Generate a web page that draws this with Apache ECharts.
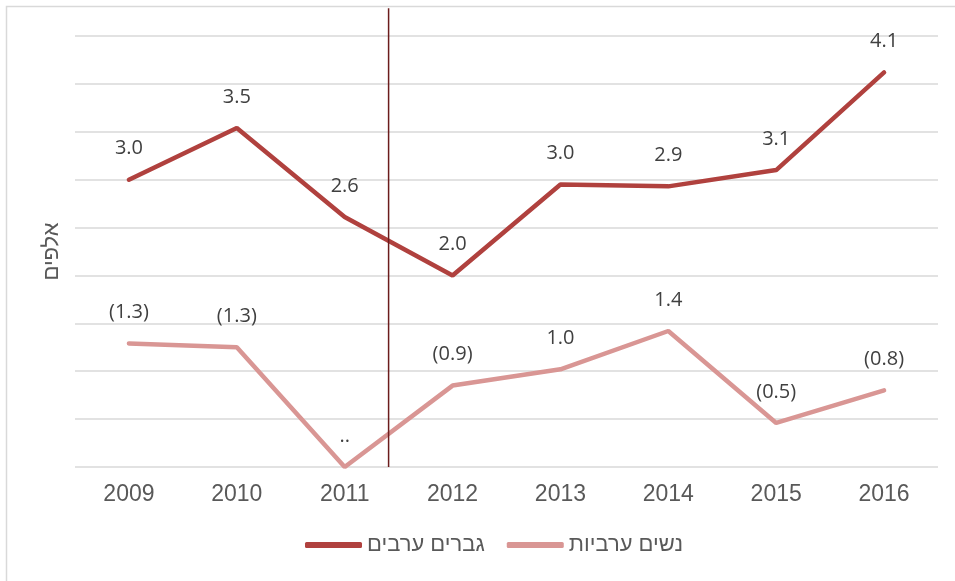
<!DOCTYPE html>
<html lang="he">
<head>
  <meta charset="UTF-8">
  <title>Chart</title>
  <script src="https://cdn.jsdelivr.net/npm/echarts@6/dist/echarts.min.js"></script>
  <style>
    * { margin: 0; padding: 0; }
    #chart { width: 955px; height: 581px; background: #fff; }
  </style>
</head>
<body>
<div id="chart"></div>
<script>
  // data
  var years = ['2009', '2010', '2011', '2012', '2013', '2014', '2015', '2016'];
  var men = [3.0, 3.54, 2.61, 2.0, 2.95, 2.93, 3.1, 4.12];
  var women = [1.29, 1.25, 0, 0.85, 1.02, 1.42, 0.46, 0.8];
  var menLabels = ['3.0', '3.5', '2.6', '2.0', '3.0', '2.9', '3.1', '4.1'];
  var womenLabels = ['(1.3)', '(1.3)', '..', '(0.9)', '1.0', '1.4', '(0.5)', '(0.8)'];
  var breakAt = 2.407; // vertical separator between 2011 and 2012

  var myChart = echarts.init(document.getElementById('chart'));

  function labelOpt(texts) {
    return {
      show: true,
      position: 'top',
      distance: 21,
      fontFamily: 'Open Sans',
      fontSize: 20,
      color: '#404040',
      formatter: function (p) { return texts[p.dataIndex]; }
    };
  }

  var option = {
    animation: false,
    graphic: [{
      type: 'rect',
      shape: { x: 6.5, y: 6.5, width: 960, height: 600 },
      style: { fill: 'none', stroke: '#d9d9d9', lineWidth: 1.5 },
      silent: true
    }],
    grid: { left: 75, right: 17, top: 36, bottom: 114 },
    legend: {
      bottom: 20,
      left: 300,
      itemWidth: 57,
      itemHeight: 6,
      itemGap: 22,
      icon: 'roundRect',
      data: ['גברים ערבים', 'נשים ערביות'],
      textStyle: { fontFamily: 'Liberation Sans', fontSize: 22, color: '#595959' }
    },
    xAxis: [{
      type: 'category',
      data: years,
      axisLine: { show: false },
      axisTick: { show: false },
      axisLabel: { fontFamily: 'Liberation Sans', fontSize: 23, color: '#595959', margin: 16 }
    }, {
      type: 'value',
      min: -0.5,
      max: 7.5,
      show: false
    }],
    yAxis: {
      type: 'value',
      min: 0,
      max: 4.5,
      interval: 0.5,
      name: 'אלפים',
      nameLocation: 'middle',
      nameGap: 12,
      nameTextStyle: { fontFamily: 'Liberation Sans', fontSize: 22, color: '#595959' },
      axisLabel: { show: false },
      axisLine: { show: false },
      axisTick: { show: false },
      splitLine: { lineStyle: { color: '#d9d9d9', width: 1.5 } }
    },
    series: [{
      name: 'גברים ערבים',
      type: 'line',
      data: men,
      symbol: 'circle',
      symbolSize: 0.1,
      color: '#b0413e',
      lineStyle: { width: 4.5, color: '#b0413e', cap: 'round' },
      label: labelOpt(menLabels)
    }, {
      name: 'נשים ערביות',
      type: 'line',
      data: women,
      symbol: 'circle',
      symbolSize: 0.1,
      color: '#d99694',
      lineStyle: { width: 4.5, color: '#d99694', cap: 'round' },
      label: labelOpt(womenLabels)
    }, {
      type: 'line',
      xAxisIndex: 1,
      data: [[breakAt, 0], [breakAt, 4.79]],
      symbol: 'none',
      clip: false,
      silent: true,
      lineStyle: { width: 1.5, color: '#6b1c1c' },
      z: 5
    }]
  };

  myChart.setOption(option);
</script>
</body>
</html>
